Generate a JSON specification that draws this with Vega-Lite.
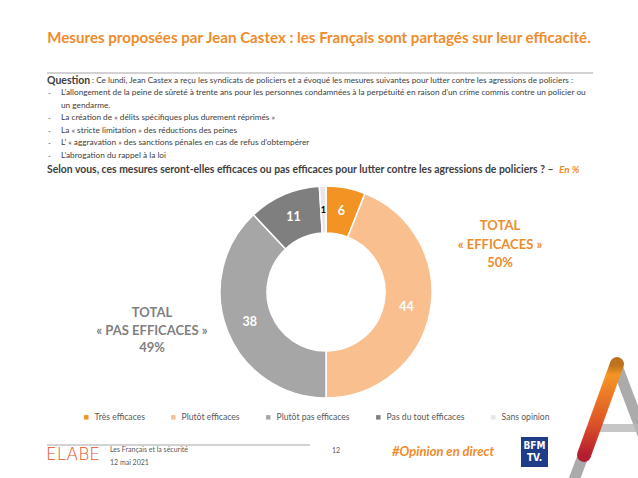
{
  "$schema": "https://vega.github.io/schema/vega-lite/v6.json",
  "width": 638,
  "height": 478,
  "autosize": "none",
  "padding": 0,
  "background": "white",
  "config": {"view": {"stroke": null}, "font": "Lato"},
  "layer": [
    {
      "data": {"values": [
        {"categorie": "Très efficaces", "valeur": 6, "ordre": 1},
        {"categorie": "Plutôt efficaces", "valeur": 44, "ordre": 2},
        {"categorie": "Plutôt pas efficaces", "valeur": 38, "ordre": 3},
        {"categorie": "Pas du tout efficaces", "valeur": 11, "ordre": 4},
        {"categorie": "Sans opinion", "valeur": 1, "ordre": 5}
      ]},
      "layer": [
        {
          "mark": {"type": "arc", "x": 326, "y": 292, "outerRadius": 106, "innerRadius": 59, "stroke": "white", "strokeWidth": 1.5},
          "encoding": {
            "theta": {"field": "valeur", "type": "quantitative", "stack": true},
            "order": {"field": "ordre", "type": "quantitative"},
            "color": {
              "field": "categorie", "type": "nominal",
              "scale": {"domain": ["Très efficaces", "Plutôt efficaces", "Plutôt pas efficaces", "Pas du tout efficaces", "Sans opinion"],
                        "range": ["#F39323", "#F9BF8F", "#A6A6A6", "#7F7F7F", "#E7E7E7"]},
              "legend": {"title": null, "orient": "none", "legendX": 82, "legendY": 413, "direction": "horizontal",
                         "symbolType": "square", "symbolSize": 20, "labelFontSize": 8.6, "labelColor": "#595959",
                         "columnPadding": 24, "labelFont": "Lato", "symbolStrokeWidth": 0, "labelOffset": 4}
            }
          }
        },
        {
          "mark": {"type": "text", "x": 326, "y": 292, "radius": 82, "font": "Lato", "fontWeight": "bold",
                   "fontSize": {"expr": "datum.valeur < 2 ? 9 : 12.5"},
                   "fill": {"expr": "datum.valeur < 2 ? '#000000' : '#FFFFFF'"}},
          "encoding": {
            "theta": {"field": "valeur", "type": "quantitative", "stack": true},
            "order": {"field": "ordre", "type": "quantitative"},
            "text": {"field": "valeur", "type": "quantitative"}
          }
        }
      ]
    },
    {
      "data": {"values": [{}]},
      "layer": [
        {"mark": {"type": "text", "x": 319, "y": 38, "text": "Mesures proposées par Jean Castex : les Français sont partagés sur leur efficacité.", "align": "center", "baseline": "middle", "fontSize": 15.1, "fontWeight": "bold", "fill": "#EE8C2C"}},
        {"mark": {"type": "rule", "stroke": "#A6A6A6", "strokeWidth": 1.2}, "encoding": {"x": {"value": 47}, "x2": {"value": 593}, "y": {"value": 73}, "y2": {"value": 73}}},
        {"mark": {"type": "text", "x": 47, "y": 81, "text": "Question", "align": "left", "baseline": "middle", "fontSize": 10.5, "fontWeight": "bold", "fill": "#404040"}},
        {"mark": {"type": "text", "x": 92, "y": 81, "text": ": Ce lundi, Jean Castex a reçu les syndicats de policiers et a évoqué les mesures suivantes pour lutter contre les agressions de policiers :", "align": "left", "baseline": "middle", "fontSize": 8.2, "fill": "#404040"}},
        {"mark": {"type": "text", "x": 48, "y": 94, "text": "-", "align": "left", "baseline": "middle", "fontSize": 8, "fill": "#595959"}},
        {"mark": {"type": "text", "x": 48, "y": 119, "text": "-", "align": "left", "baseline": "middle", "fontSize": 8, "fill": "#595959"}},
        {"mark": {"type": "text", "x": 48, "y": 131.5, "text": "-", "align": "left", "baseline": "middle", "fontSize": 8, "fill": "#595959"}},
        {"mark": {"type": "text", "x": 48, "y": 144, "text": "-", "align": "left", "baseline": "middle", "fontSize": 8, "fill": "#595959"}},
        {"mark": {"type": "text", "x": 48, "y": 157, "text": "-", "align": "left", "baseline": "middle", "fontSize": 8, "fill": "#595959"}},
        {"mark": {"type": "text", "x": 61, "y": 93, "text": ["L’allongement de la peine de sûreté à trente ans pour les personnes condamnées à la perpétuité en raison d’un crime commis contre un policier ou", "un gendarme.", "La création de « délits spécifiques plus durement réprimés »", "La « stricte limitation » des réductions des peines", "L’ « aggravation » des sanctions pénales en cas de refus d’obtempérer", "L’abrogation du rappel à la loi"], "lineHeight": 12.6, "align": "left", "baseline": "middle", "fontSize": 8.25, "fill": "#404040"}},
        {"mark": {"type": "text", "x": 47, "y": 170, "text": "Selon vous, ces mesures seront-elles efficaces ou pas efficaces pour lutter contre les agressions de policiers ? –", "align": "left", "baseline": "middle", "fontSize": 10.4, "fontWeight": "bold", "fill": "#404040"}},
        {"mark": {"type": "text", "x": 559, "y": 170, "text": "En %", "align": "left", "baseline": "middle", "fontSize": 10, "fontWeight": "bold", "fontStyle": "italic", "fill": "#EE8C2C"}},
        {"mark": {"type": "text", "x": 500, "y": 226, "text": ["TOTAL", "« EFFICACES »", "50%"], "lineHeight": 18.5, "align": "center", "baseline": "middle", "fontSize": 13, "fontWeight": "bold", "fill": "#EE8C2C"}},
        {"mark": {"type": "text", "x": 152, "y": 313, "text": ["TOTAL", "« PAS EFFICACES »", "49%"], "lineHeight": 17.5, "align": "center", "baseline": "middle", "fontSize": 13, "fontWeight": "bold", "fill": "#7F7F7F"}},
        {"mark": {"type": "rule", "stroke": "#A6A6A6", "strokeWidth": 1}, "encoding": {"x": {"value": 47}, "x2": {"value": 310}, "y": {"value": 445}, "y2": {"value": 445}}},
        {"mark": {"type": "text", "x": 46, "y": 455, "text": "ELABE", "align": "left", "baseline": "middle", "fontSize": 17, "fill": "#E8501E", "font": "DejaVu Sans", "fontWeight": 300}},
        {"mark": {"type": "text", "x": 110, "y": 450, "text": ["Les Français et la sécurité", "12 mai 2021"], "lineHeight": 12.5, "align": "left", "baseline": "middle", "fontSize": 7, "fill": "#595959"}},
        {"mark": {"type": "text", "x": 336, "y": 451, "text": "12", "align": "center", "baseline": "middle", "fontSize": 7, "fill": "#595959"}},
        {"mark": {"type": "text", "x": 392, "y": 452, "text": "#Opinion en direct", "align": "left", "baseline": "middle", "fontSize": 13, "fontWeight": "bold", "fontStyle": "italic", "fill": "#EE8C2C"}},
        {"mark": {"type": "rect", "fill": "#1F3C88"}, "encoding": {"x": {"value": 521}, "x2": {"value": 548}, "y": {"value": 437}, "y2": {"value": 467}}},
        {"mark": {"type": "text", "x": 534.5, "y": 446, "text": ["BFM", "TV."], "lineHeight": 12, "align": "center", "baseline": "middle", "fontSize": 10, "fontWeight": "bold", "fill": "white", "font": "DejaVu Sans Condensed"}},
        {"mark": {"type": "rule", "stroke": "#ABABAB", "strokeWidth": 11}, "encoding": {"x": {"value": 574}, "y": {"value": 480}, "x2": {"value": 617}, "y2": {"value": 366}}},
        {"mark": {"type": "rule", "stroke": "#ABABAB", "strokeWidth": 11}, "encoding": {"x": {"value": 617}, "y": {"value": 366}, "x2": {"value": 645}, "y2": {"value": 440}}},
        {"mark": {"type": "rule", "stroke": "#B8B8B8", "strokeWidth": 8, "opacity": 0.8}, "encoding": {"x": {"value": 593}, "y": {"value": 428}, "x2": {"value": 638}, "y2": {"value": 428}}},
        {"mark": {"type": "rule", "strokeWidth": 14, "strokeCap": "round", "opacity": 0.95,
                  "stroke": {"gradient": "linear", "x1": 0, "y1": 0, "x2": 0, "y2": 1,
                             "stops": [{"offset": 0, "color": "#B86A12"}, {"offset": 0.12, "color": "#F7941D"}, {"offset": 0.6, "color": "#E3561F"}, {"offset": 1, "color": "#B5162A"}]}},
         "encoding": {"x": {"value": 584}, "y": {"value": 455}, "x2": {"value": 617}, "y2": {"value": 364}}}
      ]
    }
  ]
}
